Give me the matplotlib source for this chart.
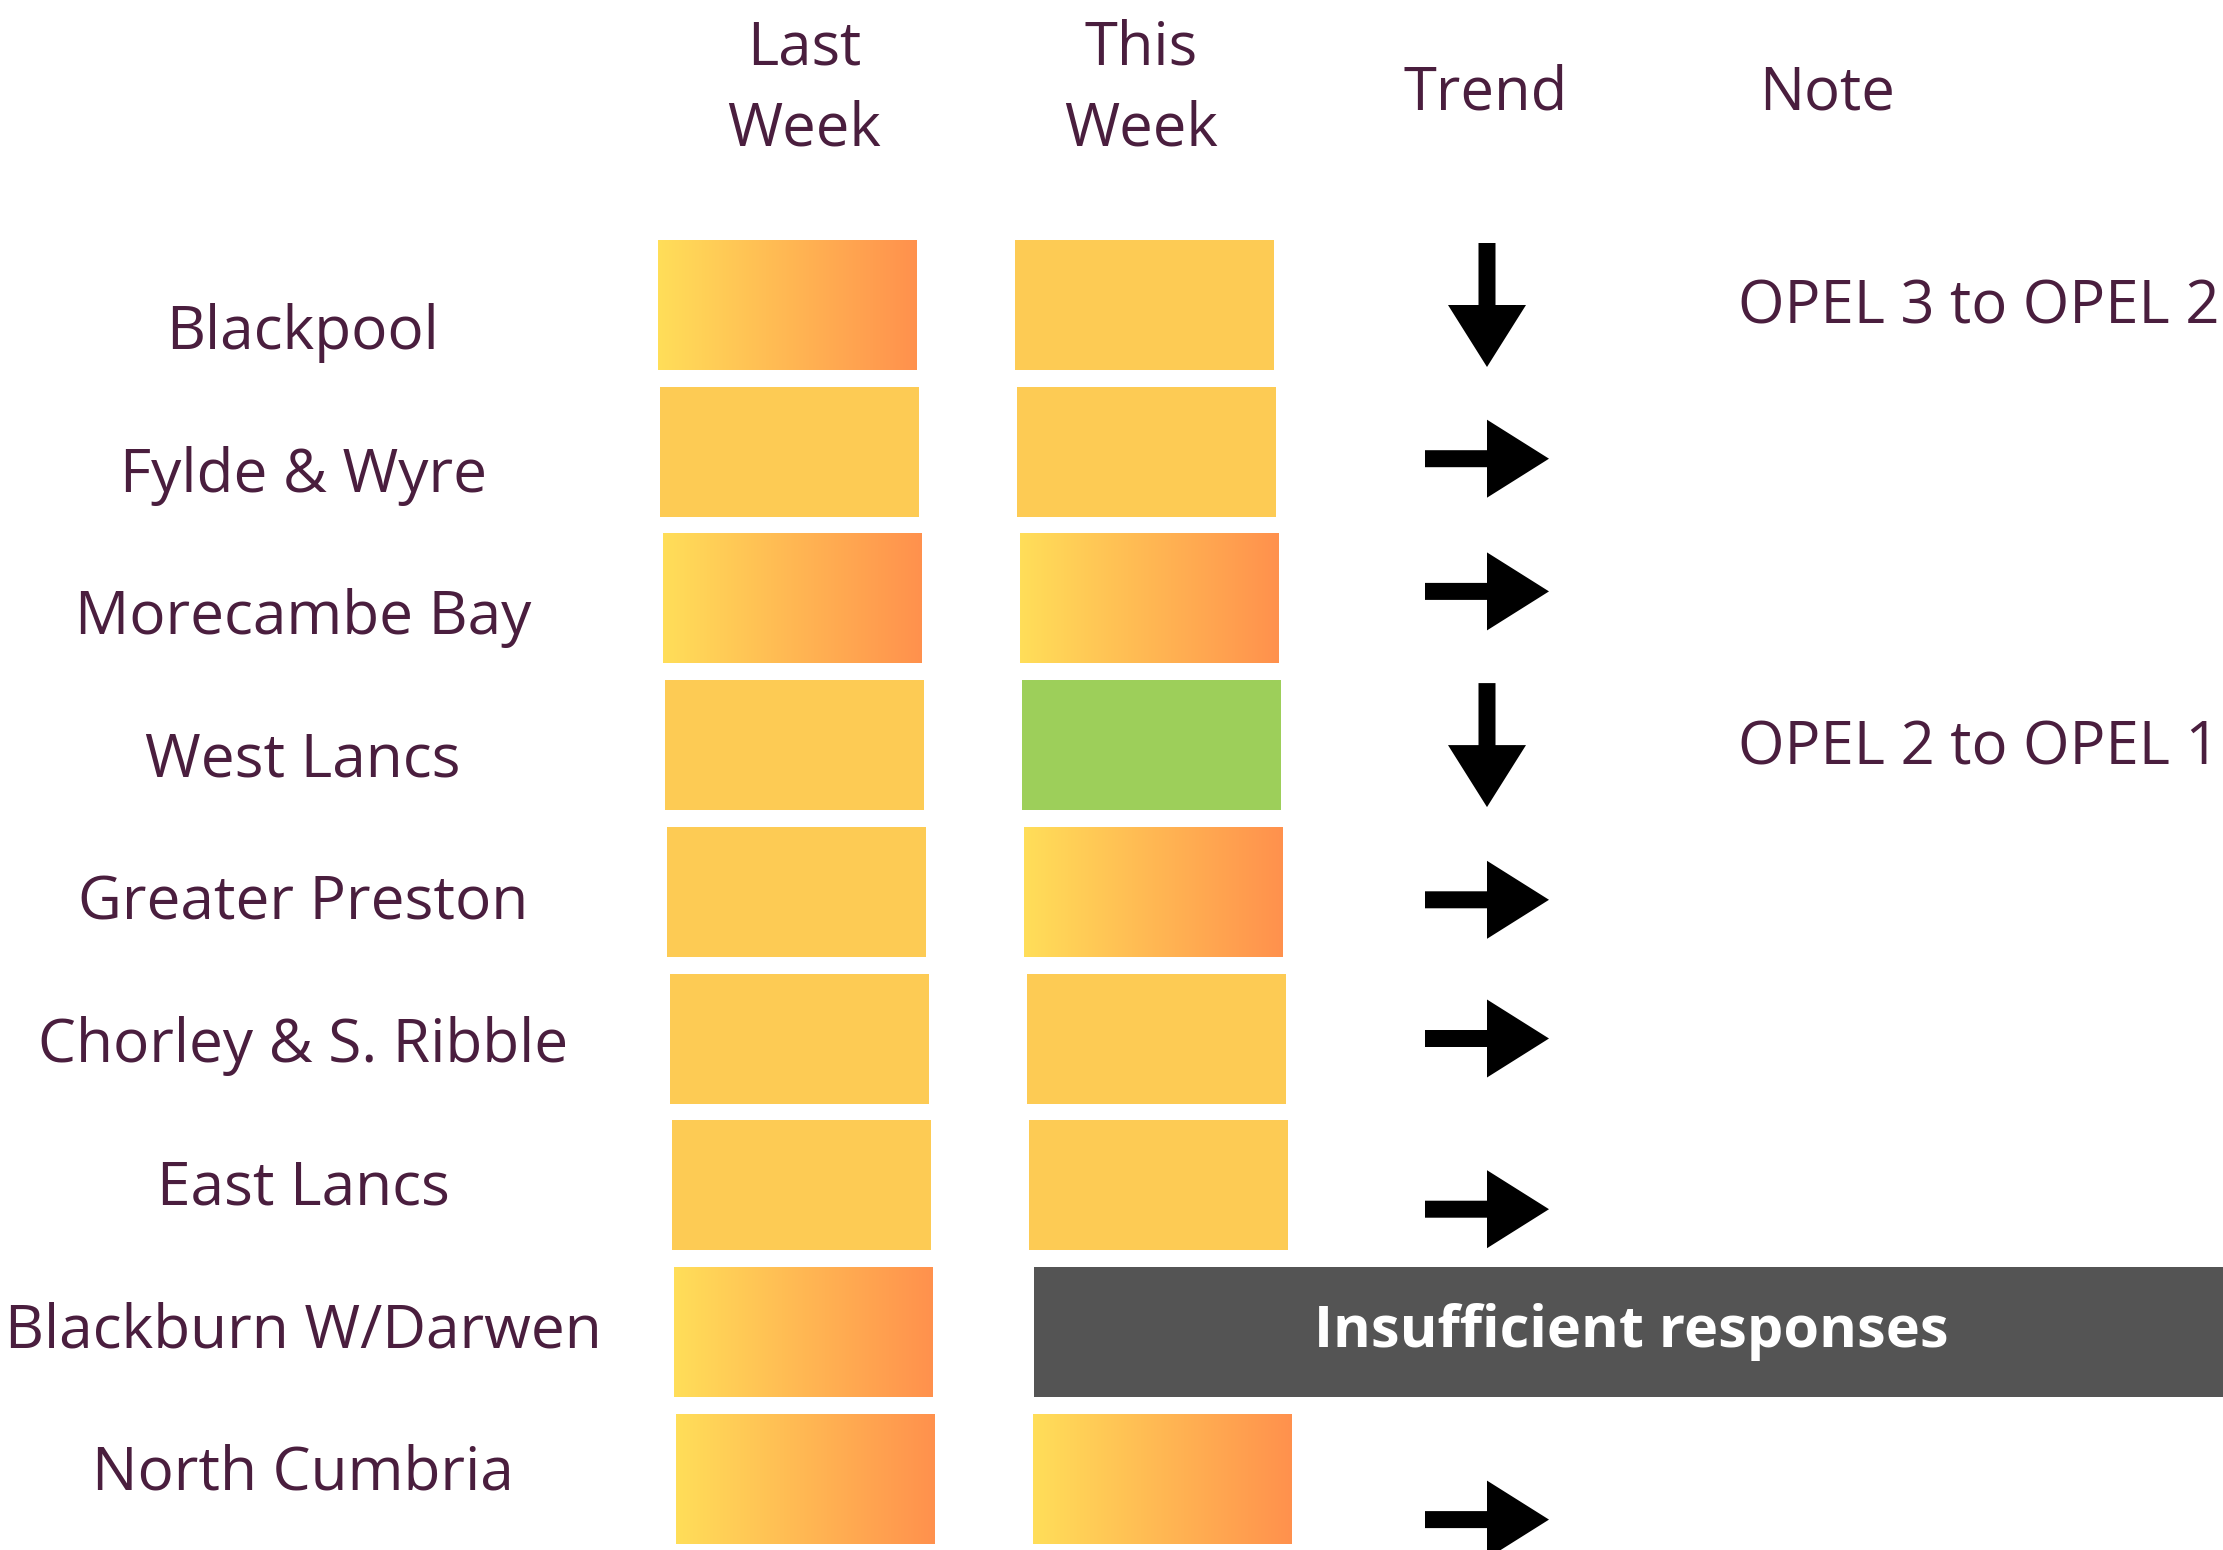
#!/usr/bin/env python3

import matplotlib
matplotlib.use('Agg')
import matplotlib.pyplot as plt
import matplotlib.patches as pp
import matplotlib.colors as pc
import numpy as np

regions = ['Blackpool', 'Fylde & Wyre', 'Morecambe Bay', 'West Lancs', 'Greater Preston',
           'Chorley & S. Ribble', 'East Lancs', 'Blackburn W/Darwen', 'North Cumbria']
# OPEL level per region (None = no data)
last_week = [3, 2, 3, 2, 2, 2, 2, 3, 3]
this_week = [2, 2, 3, 1, 3, 2, 2, None, 3]
trend = ['down', 'same', 'same', 'down', 'same', 'same', 'same', None, 'same']
notes = ['OPEL 3 to OPEL 2', '', '', 'OPEL 2 to OPEL 1', '', '', '', '', '']
headers = ['Last\nWeek', 'This\nWeek', 'Trend', 'Note']
no_data_text = 'Insufficient responses'

TEXT = '#4a1e3e'
FONT = ['Open Sans', 'DejaVu Sans']
W, H = 2223, 1550

# layout in pixels
box_w, box_h, row_pitch, top0, drift = 259, 130, 146.7, 240, 2.3
col_x = [658, 1015]
label_x, label_y0, label_pitch = 303, 333, 142.6
arrow_x = 1487
arrow_dy = [0, 7, -7, 0, 8, 0, 24, 0, 41]
note_x = 1738

grad_cmap = pc.LinearSegmentedColormap.from_list('opel3', ['#ffde59', '#ff914d'])
solid = {2: '#fdcb54', 1: '#9dcf5a'}


def draw_box(ax, x, y, level):
    if level == 3:
        g = np.linspace(0, 1, 256).reshape(1, -1)
        ax.imshow(g, cmap=grad_cmap, extent=(x, x + box_w, y + box_h, y),
                  aspect='auto', interpolation='bilinear', zorder=2)
    else:
        ax.add_patch(pp.Rectangle((x, y), box_w, box_h, color=solid[level], lw=0, zorder=2))


def draw_arrow(ax, cx, cy, kind):
    shaft, head_w, half = 17, 78, 62
    if kind == 'down':
        pts = [(cx - shaft / 2, cy - half), (cx + shaft / 2, cy - half), (cx + shaft / 2, cy),
               (cx + head_w / 2, cy), (cx, cy + half), (cx - head_w / 2, cy), (cx - shaft / 2, cy)]
    else:
        pts = [(cx - half, cy - shaft / 2), (cx, cy - shaft / 2), (cx, cy - head_w / 2),
               (cx + half, cy), (cx, cy + head_w / 2), (cx, cy + shaft / 2), (cx - half, cy + shaft / 2)]
    ax.add_patch(pp.Polygon(pts, closed=True, color='black', lw=0, zorder=3))


def main():
    fig = plt.figure(figsize=(W / 100, H / 100), dpi=100)
    ax = fig.add_axes([0, 0, 1, 1])

    head_pos = [(804, 89), (1141, 89), (1486, 94), (1827, 94)]
    for text, (x, y) in zip(headers, head_pos):
        ax.text(x, y, text, ha='center', va='center', fontsize=43, color=TEXT,
                family=FONT, linespacing=1.45)

    for i, name in enumerate(regions):
        ax.text(label_x, label_y0 + label_pitch * i, name, ha='center', va='center',
                fontsize=43.5, color=TEXT, family=FONT)
        top = top0 + row_pitch * i
        cy = top + box_h / 2
        for c, levels in enumerate([last_week, this_week]):
            x = col_x[c] + drift * i
            if levels[i] is None:
                ax.add_patch(pp.Rectangle((x + 3, top), W - x, box_h, color='#545454', lw=0, zorder=4))
                ax.text((x + W) / 2 + 4, cy, no_data_text, ha='center', va='center', fontsize=41.5,
                        color='white', weight='bold', family=FONT, zorder=5)
            else:
                draw_box(ax, x, top, levels[i])
        if trend[i]:
            draw_arrow(ax, arrow_x, cy + arrow_dy[i], trend[i])
        if notes[i]:
            ax.text(note_x, cy + 3, notes[i], ha='left', va='center', fontsize=43,
                    color=TEXT, family=FONT)

    ax.set_xlim(0, W)
    ax.set_ylim(H, 0)
    ax.axis('off')
    fig.savefig('out.png', dpi=100, facecolor='white')


if __name__ == '__main__':
    main()
